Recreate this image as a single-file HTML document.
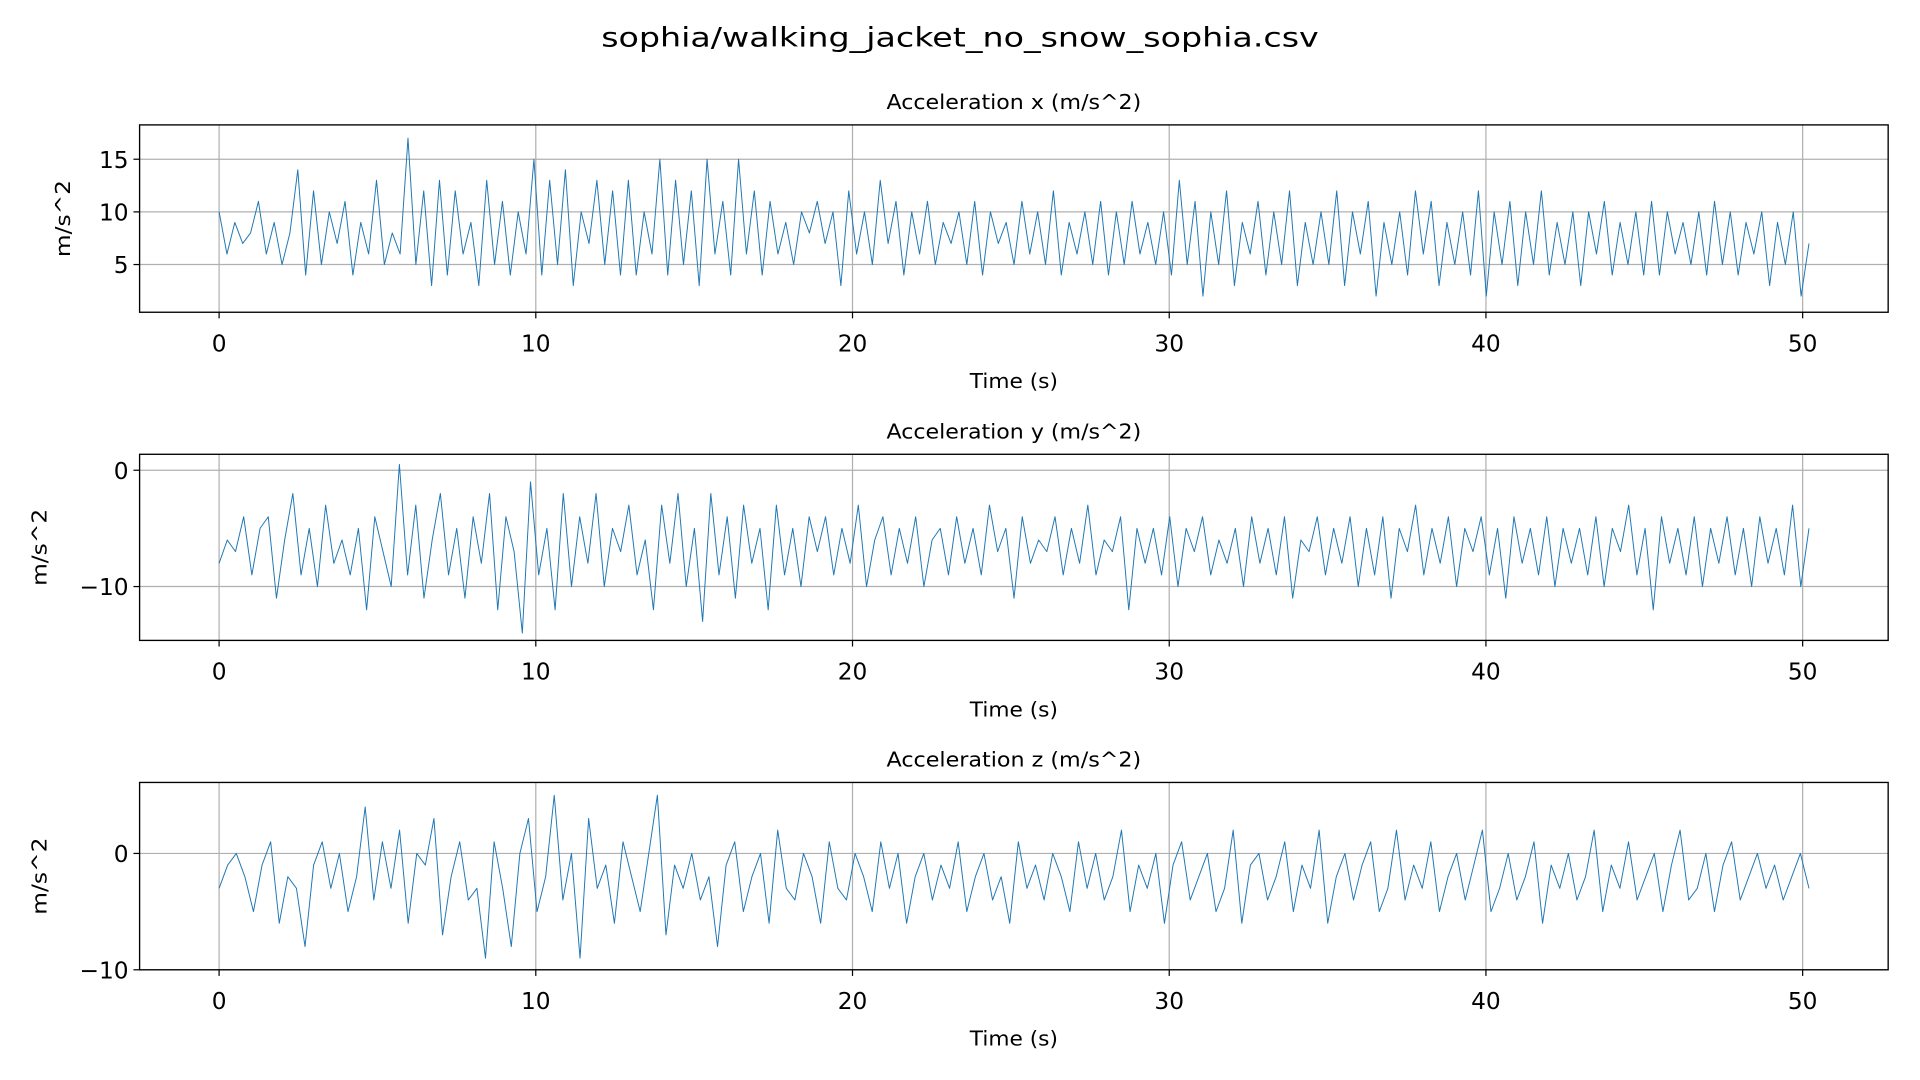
<!DOCTYPE html>
<html><head><meta charset="utf-8"><style>
html,body{margin:0;padding:0;background:#fff;}
svg{display:block;font-family:"DejaVu Sans","Liberation Sans",sans-serif;}
</style></head><body>
<svg id="fig" width="1920" height="1080" viewBox="0 0 1568 882" xmlns="http://www.w3.org/2000/svg">
<rect width="1568" height="882" fill="#fff"/>
<text x="784" y="38" text-anchor="middle" font-size="22" textLength="586" lengthAdjust="spacingAndGlyphs">sophia/walking_jacket_no_snow_sophia.csv</text>
</svg>
<script>
const accelX = [10,6,9,7,8,11,6,9,5,8,14,4,12,5,10,7,11,4,9,6,13,5,8,6,17,5,12,3,13,4,12,6,9,3,13,5,11,4,10,6,15,4,13,5,14,3,10,7,13,5,12,4,13,4,10,6,15,4,13,5,12,3,15,6,11,4,15,6,12,4,11,6,9,5,10,8,11,7,10,3,12,6,10,5,13,7,11,4,10,6,11,5,9,7,10,5,11,4,10,7,9,5,11,6,10,5,12,4,9,6,10,5,11,4,10,5,11,6,9,5,10,4,13,5,11,2,10,5,12,3,9,6,11,4,10,5,12,3,9,5,10,5,12,3,10,6,11,2,9,5,10,4,12,6,11,3,9,5,10,4,12,2,10,5,11,3,10,5,12,4,9,5,10,3,10,6,11,4,9,5,10,4,11,4,10,6,9,5,10,4,11,5,10,4,9,6,10,3,9,5,10,2,7];
const accelY = [-8,-6,-7,-4,-9,-5,-4,-11,-6,-2,-9,-5,-10,-3,-8,-6,-9,-5,-12,-4,-7,-10,0.5,-9,-3,-11,-6,-2,-9,-5,-11,-4,-8,-2,-12,-4,-7,-14,-1,-9,-5,-12,-2,-10,-4,-8,-2,-10,-5,-7,-3,-9,-6,-12,-3,-8,-2,-10,-5,-13,-2,-9,-4,-11,-3,-8,-5,-12,-3,-9,-5,-10,-4,-7,-4,-9,-5,-8,-3,-10,-6,-4,-9,-5,-8,-4,-10,-6,-5,-9,-4,-8,-5,-9,-3,-7,-5,-11,-4,-8,-6,-7,-4,-9,-5,-8,-3,-9,-6,-7,-4,-12,-5,-8,-5,-9,-4,-10,-5,-7,-4,-9,-6,-8,-5,-10,-4,-8,-5,-9,-4,-11,-6,-7,-4,-9,-5,-8,-4,-10,-5,-9,-4,-11,-5,-7,-3,-9,-5,-8,-4,-10,-5,-7,-4,-9,-5,-11,-4,-8,-5,-9,-4,-10,-5,-8,-5,-9,-4,-10,-5,-7,-3,-9,-5,-12,-4,-8,-5,-9,-4,-10,-5,-8,-4,-9,-5,-10,-4,-8,-5,-9,-3,-10,-5];
const accelZ = [-3,-1,0,-2,-5,-1,1,-6,-2,-3,-8,-1,1,-3,0,-5,-2,4,-4,1,-3,2,-6,0,-1,3,-7,-2,1,-4,-3,-9,1,-3,-8,0,3,-5,-2,5,-4,0,-9,3,-3,-1,-6,1,-2,-5,0,5,-7,-1,-3,0,-4,-2,-8,-1,1,-5,-2,0,-6,2,-3,-4,0,-2,-6,1,-3,-4,0,-2,-5,1,-3,0,-6,-2,0,-4,-1,-3,1,-5,-2,0,-4,-2,-6,1,-3,-1,-4,0,-2,-5,1,-3,0,-4,-2,2,-5,-1,-3,0,-6,-1,1,-4,-2,0,-5,-3,2,-6,-1,0,-4,-2,1,-5,-1,-3,2,-6,-2,0,-4,-1,1,-5,-3,2,-4,-1,-3,1,-5,-2,0,-4,-1,2,-5,-3,0,-4,-2,1,-6,-1,-3,0,-4,-2,2,-5,-1,-3,1,-4,-2,0,-5,-1,2,-4,-3,0,-5,-1,1,-4,-2,0,-3,-1,-4,-2,0,-3];
const xTicks = [0,10,20,30,40,50];
const yTicksX = [5,10,15];
const yTicksY = [-10,0];
const yTicksZ = [-10,0];
const duration = 50.2;

const NS = "http://www.w3.org/2000/svg";
const svg = document.getElementById('fig');
function mk(tag, attrs, parent){
  const e = document.createElementNS(NS, tag);
  for (const k in attrs) e.setAttribute(k, attrs[k]);
  (parent||svg).appendChild(e);
  return e;
}
const L = 114, R = 1542, xmin = -2.51, xmax = 52.7;
function sx(t){ return L + (t - xmin) / (xmax - xmin) * (R - L); }

function panel(key, title, data, yt, top, bot, ymin, ymax){
  const g = mk('g', {});
  
  
  const sy = v => bot - (v - ymin) / (ymax - ymin) * (bot - top);
  xTicks.forEach(t => {
    const l = mk('line', {x1:sx(t), x2:sx(t), y1:top, y2:bot, stroke:'#b0b0b0', 'stroke-width':1}, g);
    
    
  });
  yt.forEach(v => {
    const l = mk('line', {x1:L, x2:R, y1:sy(v), y2:sy(v), stroke:'#b0b0b0', 'stroke-width':1}, g);
    
    
  });
  const n = data.length, dt = duration / (n - 1);
  const pts = data.map((v, i) => sx(i * dt).toFixed(2) + ',' + sy(v).toFixed(2)).join(' ');
  const pl = mk('polyline', {points:pts, fill:'none', stroke:'#1f77b4', 'stroke-width':0.8, 'stroke-linejoin':'round'}, g);
  
  
  const fr = mk('rect', {x:L, y:top, width:R-L, height:bot-top, fill:'none', stroke:'#000', 'stroke-width':1.1}, g);
  
  
  xTicks.forEach(t => {
    mk('line', {x1:sx(t), x2:sx(t), y1:bot, y2:bot+5, stroke:'#000', 'stroke-width':1}, g);
    const tx = mk('text', {x:sx(t), y:bot+32, 'text-anchor':'middle', 'font-size':19}, g);
    tx.textContent = t;
    
    
  });
  yt.forEach(v => {
    mk('line', {x1:L-5, x2:L, y1:sy(v), y2:sy(v), stroke:'#000', 'stroke-width':1}, g);
    const tx = mk('text', {x:L-9, y:sy(v)+7, 'text-anchor':'end', 'font-size':19}, g);
    tx.textContent = v < 0 ? '\u2212' + Math.abs(v) : v;
    
    
  });
  const ti = mk('text', {x:(L+R)/2, y:top-13, 'text-anchor':'middle', 'font-size':16.5, textLength:208, lengthAdjust:'spacingAndGlyphs'}, g);
  ti.textContent = title;
  
  
  const xl = mk('text', {x:(L+R)/2, y:bot+62, 'text-anchor':'middle', 'font-size':16.5, textLength:72, lengthAdjust:'spacingAndGlyphs'}, g);
  xl.textContent = 'Time (s)';
  
  
  const ylx = key === 'x' ? 57 : 38;
  const yl = mk('text', {x:ylx, y:(top+bot)/2, 'text-anchor':'middle', 'font-size':17, textLength:63, lengthAdjust:'spacingAndGlyphs', transform:'rotate(-90 '+ylx+' '+((top+bot)/2)+')'}, g);
  yl.textContent = 'm/s^2';
  
  
}
panel('x', 'Acceleration x (m/s^2)', accelX, yTicksX, 102, 255, 0.47, 18.26);
panel('y', 'Acceleration y (m/s^2)', accelY, yTicksY, 371, 523, -14.63, 1.37);
panel('z', 'Acceleration z (m/s^2)', accelZ, yTicksZ, 639, 792, -10, 6.1);
</script>
</body></html>
